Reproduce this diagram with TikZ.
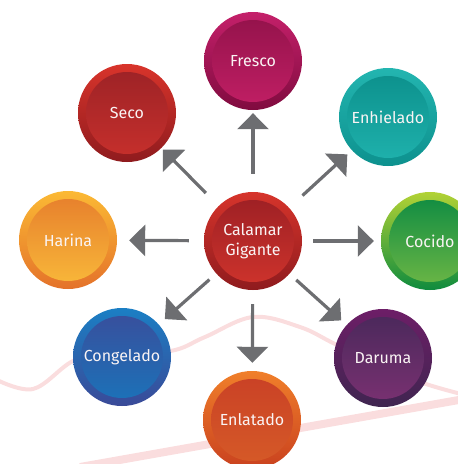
\documentclass[tikz,border=0pt]{standalone}
\usepackage{fontspec}
\setmainfont{Fira Sans}
\usepackage{tikz}
\usetikzlibrary{arrows.meta,positioning,calc}
\definecolor{squidgray}{RGB}{109,110,113}
\definecolor{squidpink}{RGB}{250,221,222}
\definecolor{squidtext}{RGB}{250,244,244}
% ring top / ring bottom / disc top / disc bottom
\definecolor{calamarA}{RGB}{214,52,43}   \definecolor{calamarB}{RGB}{143,27,30}
\definecolor{calamarC}{RGB}{155,31,36}   \definecolor{calamarD}{RGB}{208,52,44}
\definecolor{frescoA}{RGB}{196,32,106}   \definecolor{frescoB}{RGB}{128,11,63}
\definecolor{frescoC}{RGB}{146,18,74}    \definecolor{frescoD}{RGB}{194,31,101}
\definecolor{secoA}{RGB}{216,52,43}      \definecolor{secoB}{RGB}{143,27,30}
\definecolor{secoC}{RGB}{155,34,38}      \definecolor{secoD}{RGB}{200,48,44}
\definecolor{enhieladoA}{RGB}{35,181,176} \definecolor{enhieladoB}{RGB}{13,145,142}
\definecolor{enhieladoC}{RGB}{11,143,139} \definecolor{enhieladoD}{RGB}{32,179,174}
\definecolor{harinaA}{RGB}{251,185,52}   \definecolor{harinaB}{RGB}{228,114,42}
\definecolor{harinaC}{RGB}{230,125,44}   \definecolor{harinaD}{RGB}{249,186,58}
\definecolor{cocidoA}{RGB}{178,210,53}   \definecolor{cocidoB}{RGB}{15,139,62}
\definecolor{cocidoC}{RGB}{12,138,66}    \definecolor{cocidoD}{RGB}{111,184,69}
\definecolor{congeladoA}{RGB}{27,127,196} \definecolor{congeladoB}{RGB}{58,74,152}
\definecolor{congeladoC}{RGB}{58,77,155} \definecolor{congeladoD}{RGB}{26,116,186}
\definecolor{enlatadoA}{RGB}{240,127,42} \definecolor{enlatadoB}{RGB}{201,65,31}
\definecolor{enlatadoC}{RGB}{201,64,38}  \definecolor{enlatadoD}{RGB}{214,91,39}
\definecolor{darumaA}{RGB}{109,30,103}   \definecolor{darumaB}{RGB}{63,37,80}
\definecolor{darumaC}{RGB}{72,40,90}     \definecolor{darumaD}{RGB}{123,49,114}
\tikzset{
  bubble/.style={
    circle,
    minimum size=98pt,
    inner sep=0pt,
    align=center,
    text=squidtext,
    font=\fontsize{16}{20.5}\selectfont,
    top color=#1A,
    bottom color=#1B,
    path picture={
      \shade[top color=#1C, bottom color=#1D]
        (path picture bounding box.center) circle (41pt);
    },
  },
  squid arrow/.style={
    -{Triangle[length=16pt,width=31pt]},
    line width=3.2pt,
    draw=squidgray,
  },
}

\begin{document}
\begin{tikzpicture}[x=1pt,y=-1pt]
  \useasboundingbox (0,0) rectangle (458,464);
  \clip (0,0) rectangle (458,464);
  % background lines
  \draw[squidpink, line width=8pt] (80,467) -- (470,398);
  \draw[squidpink, line width=4pt] plot[smooth, tension=0.6] coordinates
    {(-5,379) (33,389) (73,361) (110,352) (170,351) (205,337) (253,317)
     (300,327) (335,344) (380,365) (423,383) (465,395)};
  % center
  \node[bubble=calamar] (calamar) at (253,241) {Calamar\\Gigante};
  % outer ring
  \node[bubble=fresco] (fresco) at (253,61) {Fresco};
  \node[bubble=seco] (seco) at (127,113) {Seco};
  \node[bubble=enhielado] (enhielado) at (388,117) {Enhielado};
  \node[bubble=harina] (harina) at (68,240) {Harina};
  \node[bubble=cocido] (cocido) at (430,241) {Cocido};
  \node[bubble=congelado] (congelado) at (122,357) {Congelado};
  \node[bubble=enlatado] (enlatado) at (252,420) {Enlatado};
  \node[bubble=daruma] (daruma) at (383,358) {Daruma};
  % arrows
  \foreach \dest/\sa/\sb in {fresco/18/3, seco/18/2, enhielado/18/6,
      harina/15/12, cocido/11/7, congelado/9/8, enlatado/14/8, daruma/9/7}
    \draw[squid arrow, shorten <=\sa pt, shorten >=\sb pt] (calamar) -- (\dest);
\end{tikzpicture}
\end{document}
